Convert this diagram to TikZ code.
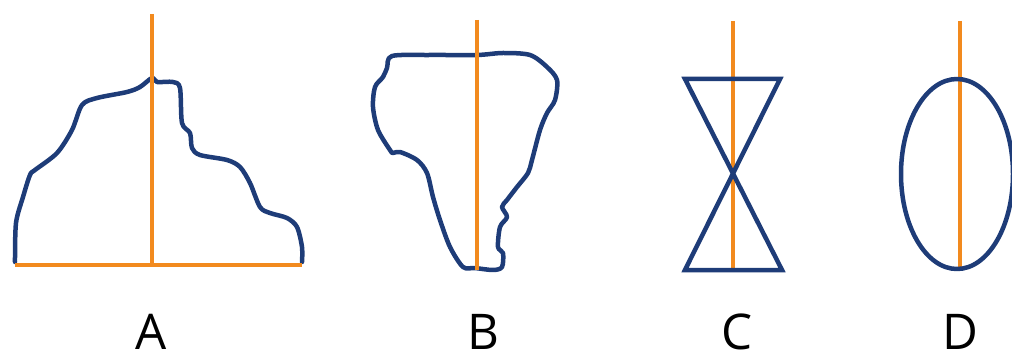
\documentclass[tikz,border=0pt]{standalone}
\usepackage{fontspec}
\setmainfont{Open Sans}
\usepackage{tikz}
\usetikzlibrary{positioning}
\definecolor{axisorange}{HTML}{F28A1E}
\definecolor{shapeblue}{HTML}{1E3C78}
\tikzset{
	axisline/.style={draw=axisorange, line width=2.2pt},
	outline/.style={draw=shapeblue, line width=3.2pt, line join=round, line cap=round},
	letter/.style={font=\fontsize{35}{35}\selectfont, text=black, inner sep=0pt, anchor=base}
}
\begin{document}
\begin{tikzpicture}[x=0.025cm, y=-0.025cm]
		\useasboundingbox (0,0) rectangle (1012,354);
		% Figura A: contorno irregular sobre base
		\draw [outline] plot[smooth, tension=0.5] coordinates {(15,262) (16,223) (23,197) (30,175) (35,170) (57,153) (72,130) (82,105) (97,98) (127,92) (140,87) (152,78) (157,82) (173,82) (180,88) (182,123) (190,133) (192,148) (200,155) (227,160) (240,167) (250,183) (260,207) (270,213) (287,218) (297,227) (302,247) (302,262)};
		\draw [axisline] (152,14) -- (152,265);
		\draw [axisline] (15,265) -- (302,265);
		
		% Figura B: contorno cerrado irregular
		\draw [outline] plot[smooth cycle, tension=0.5] coordinates {(392,56) (430,55) (477,55) (503,53) (530,55) (547,67) (557,80) (555,100) (547,113) (540,130) (532,160) (528,173) (517,187) (507,200) (502,207) (507,217) (500,227) (498,247) (503,253) (502,267) (493,270) (475,268) (463,267) (450,247) (440,220) (433,197) (427,173) (417,160) (400,152) (393,153) (390,150) (378,130) (373,107) (375,87) (383,77) (387,68)};
		\draw [axisline] (477,20) -- (477,270);
		
		% Figura C: dos triangulos opuestos
		\draw [axisline] (733,21) -- (733,270);
		\draw [outline, line cap=butt, line join=miter] (685,79) -- (780,79) -- (685,270) -- (782,270) -- cycle;
		
		% Figura D: elipse
		\draw [axisline] (960,21) -- (960,268);
		\draw [outline] (957,174) ellipse [x radius=56, y radius=95];
		
		% Letras
		\node (labA) [letter] at (151,349) {A};
		\node (labB) [letter] at (483,349) {B};
		\node (labC) [letter] at (737,349) {C};
		\node (labD) [letter] at (960,349) {D};
	\end{tikzpicture}
\end{document}
